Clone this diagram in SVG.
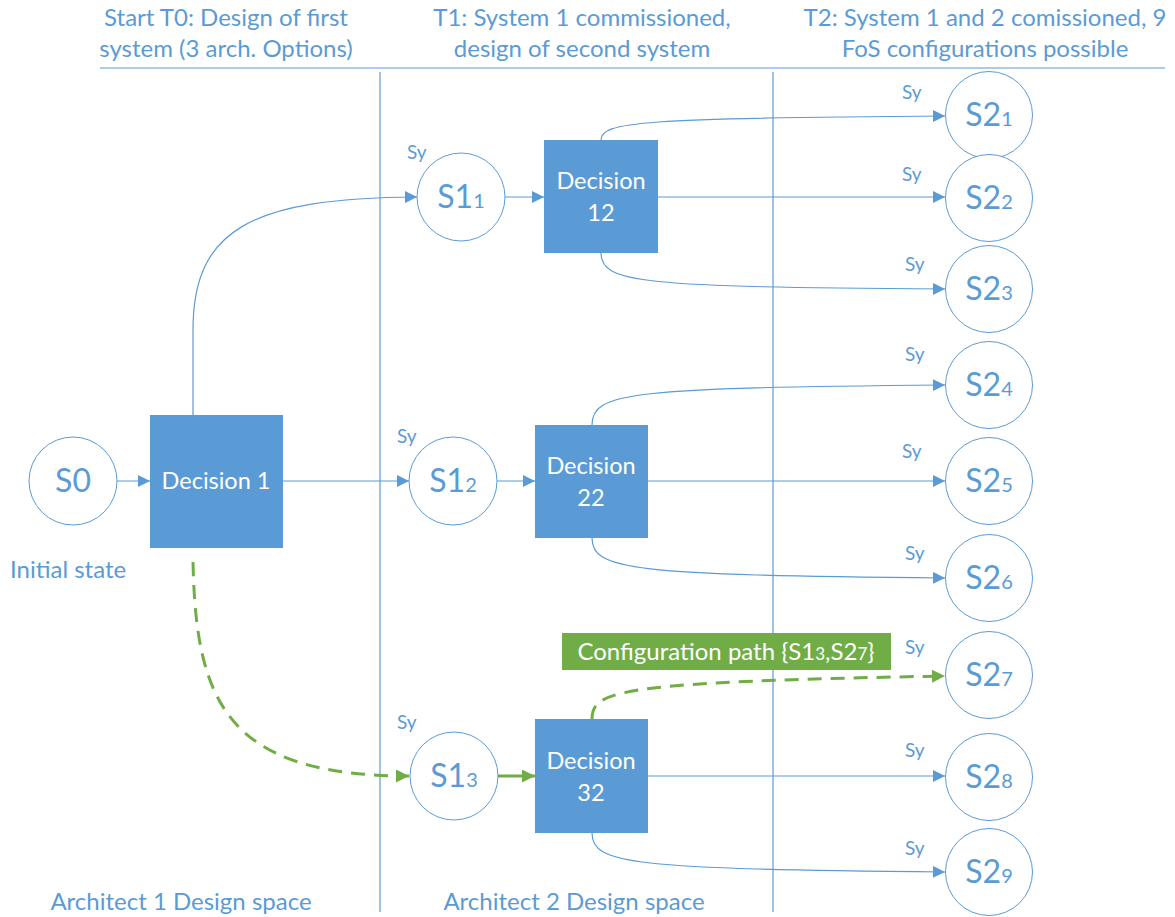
<svg xmlns="http://www.w3.org/2000/svg" width="1175" height="917" viewBox="0 0 1175 917">
  <defs>
    <style>
      .lbl { font-family: Lato, "Open Sans", sans-serif; fill: #5B9BD5; }
      .hdr { font-size: 24px; text-anchor: middle; }
      .sy { font-size: 19px; }
      .state { stroke: #5B9BD5; stroke-width: 1; fill: #FFFFFF; }
      .st { font-size: 32px; text-anchor: middle; }
      .sub { font-size: 20px; }
      .dec { fill: #5B9BD5; }
      .dt { font-family: Lato, "Open Sans", sans-serif; fill: #FFFFFF; font-size: 23.5px; text-anchor: middle; }
      .guide { stroke: #5B9BD5; stroke-width: 1.2; fill: none; }
      .conn { stroke: #5B9BD5; stroke-width: 1.2; fill: none; marker-end: url(#arrow); }
      .path { stroke: #70AD47; stroke-width: 3; fill: none; stroke-dasharray: 14 9; marker-end: url(#garrow); }
      .gsolid { stroke: #70AD47; stroke-width: 3; fill: none; marker-end: url(#garrow); }
    </style>
    <marker id="arrow" viewBox="0 0 10 10" refX="10" refY="5" markerWidth="12" markerHeight="12" markerUnits="userSpaceOnUse" orient="auto">
      <path d="M0,0 L10,5 L0,10 z" fill="#5B9BD5"/>
    </marker>
    <marker id="garrow" viewBox="0 0 10 10" refX="10" refY="5" markerWidth="13" markerHeight="13" markerUnits="userSpaceOnUse" orient="auto">
      <path d="M0,0 L10,5 L0,10 z" fill="#70AD47"/>
    </marker>
  </defs>
  <rect width="1175" height="917" fill="#FFFFFF"/>

  <!-- time phase headers and separators -->
  <g id="timeline">
    <text class="lbl hdr" x="226" y="26">Start T0: Design of first</text>
    <text class="lbl hdr" x="226" y="57">system (3 arch. Options)</text>
    <text class="lbl hdr" x="582" y="26">T1: System 1 commissioned,</text>
    <text class="lbl hdr" x="582" y="57">design of second system</text>
    <text class="lbl hdr" x="985" y="26">T2: System 1 and 2 comissioned, 9</text>
    <text class="lbl hdr" x="985" y="57">FoS configurations possible</text>
    <line class="guide" x1="100" y1="68" x2="1165" y2="68"/>
    <line class="guide" x1="380" y1="72" x2="380" y2="912"/>
    <line class="guide" x1="773" y1="72" x2="773" y2="912"/>
    <text class="lbl" x="10" y="578" font-size="24">Initial state</text>
    <text class="lbl hdr" x="181" y="910" font-size="23">Architect 1 Design space</text>
    <text class="lbl hdr" x="574" y="910" font-size="23">Architect 2 Design space</text>
  </g>

  <!-- connectors -->
  <g id="connectors">
    <line class="conn" x1="117" y1="481" x2="150" y2="481"/>
    <line class="conn" x1="283" y1="481" x2="409" y2="481"/>
    <path class="conn" d="M193,415 L193,330 C193,230 250,198 417,197"/>
    <path class="path" d="M193,562 C196,700 225,776 409,776"/>
    <line class="conn" x1="505" y1="197" x2="544" y2="197"/>
    <line class="conn" x1="497" y1="481" x2="535" y2="481"/>
    <line class="gsolid" x1="498" y1="776" x2="535" y2="776"/>
    <path class="conn" d="M601,140 C601,122 640,118 945,116"/>
    <line class="conn" x1="658" y1="197" x2="945" y2="197"/>
    <path class="conn" d="M601,253 C601,283 640,287 945,289"/>
    <path class="conn" d="M592,425 C592,392 630,388 945,385"/>
    <line class="conn" x1="648" y1="481" x2="945" y2="481"/>
    <path class="conn" d="M592,538 C592,570 630,575 945,578"/>
    <path class="path" d="M592,719 C592,690 620,682 945,676"/>
    <path class="conn" d="M592,833 C592,864 630,869 945,872"/>
  </g>

  <!-- initial state -->
  <g id="s0">
    <circle class="state" cx="73" cy="481" r="44"/>
    <text class="lbl st" x="73" y="492">S0</text>
  </g>

  <!-- decision nodes -->
  <g id="decision-1">
    <rect class="dec" x="150" y="415" width="133" height="133"/>
    <text class="dt" x="216" y="489">Decision 1</text>
  </g>
  <g id="decision-12">
    <rect class="dec" x="544" y="140" width="114" height="113"/>
    <text class="dt" x="601" y="189">Decision</text>
    <text class="dt" x="601" y="221">12</text>
  </g>
  <g id="decision-22">
    <rect class="dec" x="535" y="425" width="113" height="113"/>
    <text class="dt" x="591" y="474">Decision</text>
    <text class="dt" x="591" y="506">22</text>
  </g>
  <g id="decision-32">
    <rect class="dec" x="535" y="719" width="113" height="114"/>
    <text class="dt" x="591" y="769">Decision</text>
    <text class="dt" x="591" y="801">32</text>
  </g>
  <!-- Decision 32 to S2_8 runs over the box edge -->
  <line class="conn" x1="630" y1="776" x2="945" y2="776"/>

  <!-- first-system states -->
  <g id="s1-1">
    <circle class="state" cx="461" cy="197" r="44"/>
    <text class="lbl st" x="461" y="208">S1<tspan class="sub">1</tspan></text>
    <text class="lbl sy" x="407" y="159">Sy</text>
  </g>
  <g id="s1-2">
    <circle class="state" cx="453" cy="481" r="44"/>
    <text class="lbl st" x="453" y="492">S1<tspan class="sub">2</tspan></text>
    <text class="lbl sy" x="397" y="443">Sy</text>
  </g>
  <g id="s1-3">
    <circle class="state" cx="454" cy="776" r="44"/>
    <text class="lbl st" x="454" y="787">S1<tspan class="sub">3</tspan></text>
    <text class="lbl sy" x="397" y="729">Sy</text>
  </g>

  <!-- second-system states -->
  <g id="s2-1">
    <circle class="state" cx="989" cy="115" r="43.5"/>
    <text class="lbl st" x="989" y="126">S2<tspan class="sub">1</tspan></text>
    <text class="lbl sy" x="902" y="99">Sy</text>
  </g>
  <g id="s2-2">
    <circle class="state" cx="989" cy="198" r="43.5"/>
    <text class="lbl st" x="989" y="209">S2<tspan class="sub">2</tspan></text>
    <text class="lbl sy" x="902" y="181">Sy</text>
  </g>
  <g id="s2-3">
    <circle class="state" cx="989" cy="289" r="43.5"/>
    <text class="lbl st" x="989" y="300">S2<tspan class="sub">3</tspan></text>
    <text class="lbl sy" x="905" y="271">Sy</text>
  </g>
  <g id="s2-4">
    <circle class="state" cx="989" cy="385" r="43.5"/>
    <text class="lbl st" x="989" y="396">S2<tspan class="sub">4</tspan></text>
    <text class="lbl sy" x="905" y="361">Sy</text>
  </g>
  <g id="s2-5">
    <circle class="state" cx="989" cy="481" r="43.5"/>
    <text class="lbl st" x="989" y="492">S2<tspan class="sub">5</tspan></text>
    <text class="lbl sy" x="902" y="458">Sy</text>
  </g>
  <g id="s2-6">
    <circle class="state" cx="989" cy="578" r="43.5"/>
    <text class="lbl st" x="989" y="589">S2<tspan class="sub">6</tspan></text>
    <text class="lbl sy" x="905" y="560">Sy</text>
  </g>
  <g id="s2-7">
    <circle class="state" cx="989" cy="675" r="43.5"/>
    <text class="lbl st" x="989" y="686">S2<tspan class="sub">7</tspan></text>
    <text class="lbl sy" x="905" y="654">Sy</text>
  </g>
  <g id="s2-8">
    <circle class="state" cx="989" cy="777" r="43.5"/>
    <text class="lbl st" x="989" y="788">S2<tspan class="sub">8</tspan></text>
    <text class="lbl sy" x="905" y="757">Sy</text>
  </g>
  <g id="s2-9">
    <circle class="state" cx="989" cy="872" r="43.5"/>
    <text class="lbl st" x="989" y="883">S2<tspan class="sub">9</tspan></text>
    <text class="lbl sy" x="905" y="855">Sy</text>
  </g>

  <!-- highlighted configuration path label -->
  <g id="config-label">
    <rect x="562" y="633" width="329" height="37" fill="#70AD47"/>
    <text x="726" y="660" font-family="Lato, 'Open Sans', sans-serif" font-size="24" fill="#FFFFFF" text-anchor="middle">Configuration path {S1<tspan font-size="17">3</tspan>,S2<tspan font-size="17">7</tspan>}</text>
  </g>
</svg>
